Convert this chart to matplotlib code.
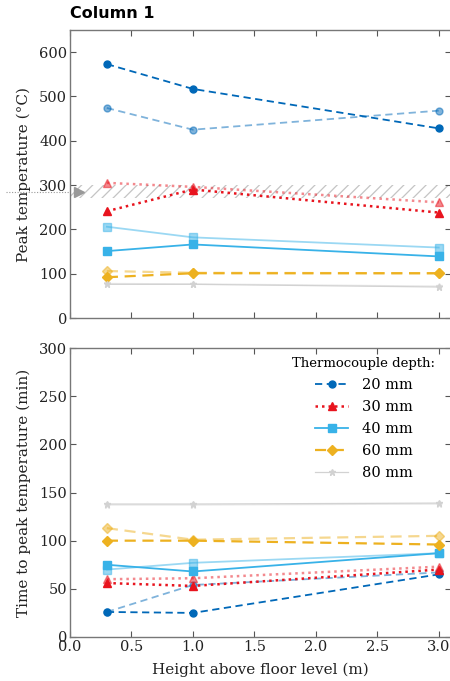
import matplotlib
matplotlib.use("Agg")
import matplotlib.pyplot as plt

plt.rcParams['font.family'] = ['DejaVu Serif']
plt.rcParams['hatch.color'] = '#c4c4c4'
plt.rcParams['hatch.linewidth'] = 0.9

heights = [0.3, 1.0, 3.0]
depth_labels = ['20 mm', '30 mm', '40 mm', '60 mm', '80 mm']

# Peak temperature (°C): dark = first set, light = second set
peak_dark = {
    '20 mm': [573, 517, 428],
    '30 mm': [241, 290, 238],
    '40 mm': [151, 166, 139],
    '60 mm': [92, 101, 101],
    '80 mm': [76, 76, 70],
}
peak_light = {
    '20 mm': [474, 425, 468],
    '30 mm': [305, 296, 261],
    '40 mm': [206, 182, 159],
    '60 mm': [106, 102, 101],
    '80 mm': [78, 77, 72],
}
# Time to peak temperature (min)
time_dark = {
    '20 mm': [26, 25, 65],
    '30 mm': [56, 53, 70],
    '40 mm': [75, 68, 87],
    '60 mm': [100, 100, 96],
    '80 mm': [138, 138, 139],
}
time_light = {
    '20 mm': [26, 54, 67],
    '30 mm': [60, 61, 73],
    '40 mm': [70, 77, 87],
    '60 mm': [113, 101, 105],
    '80 mm': [137, 137, 138],
}
band_range = [270, 300]
band_marker = 284

styles = {
    '20 mm': dict(color='#0068B8', ls=(0, (4, 2.5)), marker='o', ms=5, lw=1.3),
    '30 mm': dict(color='#E8141E', ls=(0, (1, 1.6)), marker='^', ms=6, lw=1.8),
    '40 mm': dict(color='#38B2E8', ls='-', marker='s', ms=5.5, lw=1.3),
    '60 mm': dict(color='#EDB120', ls=(0, (5, 3)), marker='D', ms=5, lw=1.6),
    '80 mm': dict(color='#D2D2D2', ls='-', marker='*', ms=5, lw=0.9),
}

fig = plt.figure(figsize=(4.5, 6.81), dpi=100)
ax1 = fig.add_axes([70/450, 1-318/681, 381/450, 288/681])
ax2 = fig.add_axes([70/450, 1-637/681, 381/450, 289/681])

def draw(ax, dark, light):
    for d in depth_labels:
        st = styles[d]
        ax.plot(heights, light[d], color=st['color'], ls=st['ls'], marker=st['marker'],
                ms=st['ms'], lw=st['lw'], alpha=0.5, zorder=3)
    for d in depth_labels:
        st = styles[d]
        ax.plot(heights, dark[d], color=st['color'], ls=st['ls'], marker=st['marker'],
                ms=st['ms'], lw=st['lw'], label=d, zorder=4)

draw(ax1, peak_dark, peak_light)
draw(ax2, time_dark, time_light)

# hatched band
ax1.fill_between([0, 3.1], band_range[0], band_range[1], facecolor='none',
                 edgecolor='#c4c4c4', linewidth=0, hatch='///', zorder=1)
ax1.plot([-0.52, 0.0], [band_marker, band_marker], color='#999999', ls=(0, (1, 1.5)),
         lw=0.8, clip_on=False, zorder=2)
ax1.plot([0.07], [band_marker], marker='>', color='#999999', ms=7, zorder=5, clip_on=False)

for ax in (ax1, ax2):
    ax.set_xlim(0, 3.1)
    ax.set_xticks([0, 0.5, 1.0, 1.5, 2.0, 2.5, 3.0])
    ax.tick_params(direction='in', top=True, right=True, length=4, width=0.8,
                   color='#555555', labelsize=10.5, labelcolor='#222222', pad=2)
    for s in ax.spines.values():
        s.set_color('#777777')
        s.set_linewidth(1.0)

ax1.set_ylim(0, 650)
ax1.set_yticks([0, 100, 200, 300, 400, 500, 600])
ax1.tick_params(labelbottom=False)
ax1.set_ylabel('Peak temperature (°C)', fontsize=11, color='#222222', labelpad=6)
ax1.text(0, 1.03, 'Column 1', transform=ax1.transAxes, fontsize=11.5, fontweight='bold',
         ha='left', va='bottom', family='DejaVu Sans')

ax2.set_ylim(0, 300)
ax2.set_yticks([0, 50, 100, 150, 200, 250, 300])
ax2.set_xticklabels(['0.0', '0.5', '1.0', '1.5', '2.0', '2.5', '3.0'])
ax2.set_ylabel('Time to peak temperature (min)', fontsize=11, color='#222222', labelpad=6)
ax2.set_xlabel('Height above floor level (m)', fontsize=11, color='#222222', labelpad=6)

leg = ax2.legend(title='Thermocouple depth:', loc='upper right', frameon=False,
                 fontsize=10.5, title_fontsize=9.5, handlelength=2.3, labelspacing=0.55,
                 borderaxespad=0.0, handletextpad=0.9, borderpad=0.3,
                 bbox_to_anchor=(0.97, 0.985))

fig.savefig('out.png', dpi=100)
